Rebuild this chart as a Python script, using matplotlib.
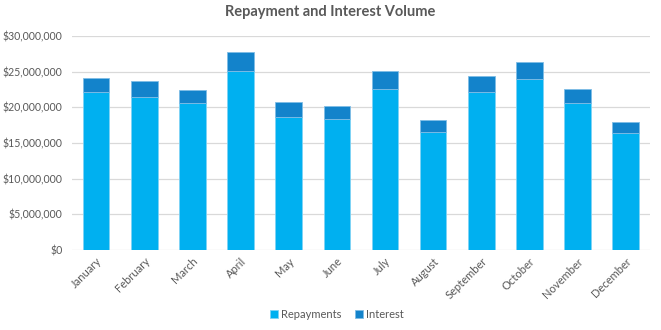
import matplotlib.pyplot as plt
from matplotlib.ticker import FuncFormatter

months = ["January", "February", "March", "April", "May", "June",
          "July", "August", "September", "October", "November", "December"]
repayments = [22.1, 21.45, 20.65, 25.1, 18.7, 18.35, 22.55, 16.55, 22.15, 24.0, 20.6, 16.45]
totals = [24.1, 23.65, 22.4, 27.75, 20.7, 20.2, 25.15, 18.2, 24.35, 26.3, 22.6, 18.0]
repayments = [v * 1e6 for v in repayments]
interest = [t * 1e6 - r for t, r in zip(totals, repayments)]

plt.rcParams['font.family'] = ['Lato', 'DejaVu Sans']

fig = plt.figure(figsize=(6.61, 3.3), dpi=100)
ax = fig.add_axes([0.109, 0.2424, 0.874, 0.6486])

x = range(len(months))
ax.bar(x, repayments, width=0.55, color='#00B0F0', edgecolor='#7FD3F5', linewidth=0.6,
       label='Repayments', zorder=3)
ax.bar(x, interest, width=0.55, bottom=repayments, color='#1383CB', edgecolor='#7FBDE6',
       linewidth=0.6, label='Interest', zorder=3)

ax.set_xlim(-0.5, len(months) - 0.5)
ax.set_ylim(0, 30e6)
ax.set_yticks(range(0, 30000001, 5000000))
ax.yaxis.set_major_formatter(FuncFormatter(lambda v, p: f"${v:,.0f}"))
ax.set_xticks(list(x))
ax.set_xticklabels(months, rotation=45, ha='right', rotation_mode='anchor')
ax.tick_params(axis='both', length=0, labelsize=8, colors='#595959')
ax.tick_params(axis='y', pad=7, labelsize=7.6)
ax.tick_params(axis='x', pad=4)

ax.grid(axis='y', color='#D9D9D9', linewidth=0.9, zorder=0)
for s in ax.spines.values():
    s.set_visible(False)

fig.suptitle("Repayment and Interest Volume", x=0.5, y=0.985, fontsize=10.5,
             fontweight='bold', color='#595959')

fig.legend(loc='lower center', bbox_to_anchor=(0.51, 0.0), ncol=2, frameon=False,
           fontsize=8, handlelength=0.7, handleheight=0.7, handletextpad=0.3,
           columnspacing=1.2, labelcolor='#595959')

fig.savefig('out.png', dpi=100)
